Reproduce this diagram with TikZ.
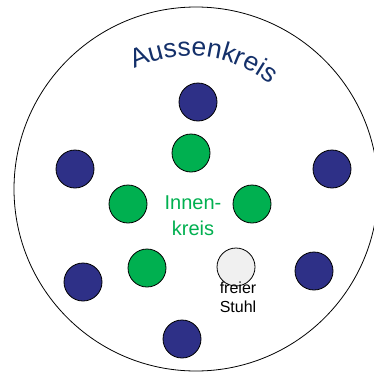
\documentclass[tikz,border=0pt]{standalone}
\usepackage{fontspec}
\setmainfont{Liberation Sans}
\usetikzlibrary{decorations.text}
\definecolor{navy}{HTML}{2E3087}
\definecolor{gruen}{HTML}{00B050}
\definecolor{titel}{HTML}{14306A}
\definecolor{frei}{HTML}{F0F0F0}
\begin{document}
\begin{tikzpicture}[x=1pt,y=1pt,
  seat/.style={circle,draw=black,line width=0.8pt,minimum size=38pt,inner sep=0pt},
  outerseat/.style={seat,fill=navy},
  innerseat/.style={seat,fill=gruen},
  freeseat/.style={seat,fill=frei}]
\useasboundingbox (0,0) rectangle (374,-372);
\clip (0,0) rectangle (374,-372);
\fill[white] (0,0) rectangle (374,-372);
\draw[line width=0.8pt] (196,-189) circle[radius=182];
% outer circle seats
\node[outerseat] (o1) at (198,-102) {};
\node[outerseat] (o2) at (75,-169) {};
\node[outerseat] (o3) at (332,-169) {};
\node[outerseat] (o4) at (83,-282) {};
\node[outerseat] (o5) at (314,-271) {};
\node[outerseat] (o6) at (182,-339) {};
% inner circle seats
\node[innerseat] (i1) at (191,-153) {};
\node[innerseat] (i2) at (128,-204) {};
\node[innerseat] (i3) at (252,-204) {};
\node[innerseat] (i4) at (147,-268) {};
\node[freeseat] (f1) at (236,-267) {};
% labels
\node[text=gruen,font=\fontsize{20}{26}\selectfont,align=center,anchor=base] (lin) at (193,-235) {Innen-\\kreis};
\node[text=black,font=\fontsize{16}{19}\selectfont,align=center,anchor=base] (lfree) at (238,-312) {freier\\Stuhl};
\path[decorate,decoration={text along path,text color=titel,
  text={|\fontsize{26.5}{30}\selectfont|Aussenkreis},text align=center}]
  (190,-182) ++(130:126) arc[start angle=130,end angle=37,radius=126];
\end{tikzpicture}
\end{document}
